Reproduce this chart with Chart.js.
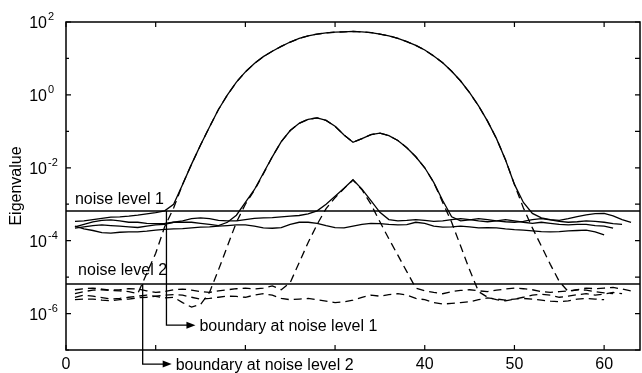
<!DOCTYPE html>
<html lang="en">
<head>
<meta charset="UTF-8">
<title>Eigenvalues at two noise levels</title>
<script src="https://cdn.jsdelivr.net/npm/chart.js"></script>
<style>
  body { margin: 0; background: #fff; }
  #wrap { width: 642px; height: 373px; position: relative; }
</style>
</head>
<body>
<div id="wrap"><canvas id="eigChart"></canvas></div>
<script>
// every curve starts at index 1 and runs as far as its array goes
const xStart = 1;

// solid curves: eigenvalues at noise level 1
const eig1Noise1 = [
  3.4e-4, 3.5e-4, 3.8e-4, 4.1e-4, 4.4e-4, 4.5e-4, 4.7e-4, 5.0e-4, 5.4e-4, 5.9e-4,
  6.6e-4, 1.0e-3, 3.5e-3, 1.26e-2, 4.2e-2, 0.132, 0.398, 1.0, 2.24, 4.27,
  7.24, 11.2, 15.8, 21.4, 28.2, 35.5, 41.7, 46.8, 50.1, 52.5,
  53.7, 55.0, 53.7, 51.3, 46.8, 41.7, 35.5, 28.8, 22.9, 17.0,
  11.7, 7.59, 4.47, 2.40, 1.15, 0.501, 0.191, 0.0631, 0.0166, 3.5e-3,
  1.12e-3, 5.6e-4, 4.2e-4, 3.8e-4, 3.6e-4, 4.0e-4, 4.6e-4, 5.1e-4, 5.5e-4, 5.6e-4,
  4.8e-4, 3.8e-4, 3.2e-4
];
const eig2Noise1 = [
  2.4e-4, 2.8e-4, 3.3e-4, 3.6e-4, 3.7e-4, 3.5e-4, 3.2e-4, 3.2e-4, 3.0e-4, 2.95e-4,
  3.0e-4, 3.2e-4, 3.2e-4, 3.2e-4, 3.0e-4, 2.8e-4, 2.6e-4, 3.2e-4, 5.0e-4, 1.12e-3,
  2.5e-3, 7.1e-3, 2.0e-2, 5.2e-2, 0.105, 0.166, 0.214, 0.234, 0.200, 0.138,
  0.0794, 0.0501, 0.0631, 0.0813, 0.0891, 0.0759, 0.0562, 0.0355, 0.020, 0.010,
  3.98e-3, 1.26e-3, 4.5e-4, 3.5e-4, 3.7e-4, 4.0e-4, 3.8e-4, 3.5e-4, 3.3e-4, 3.2e-4,
  3.4e-4, 3.8e-4, 4.0e-4, 3.7e-4, 3.4e-4, 3.2e-4, 3.3e-4, 3.5e-4, 3.4e-4, 3.2e-4,
  2.95e-4, 2.8e-4
];
const eig3Noise1 = [
  2.2e-4, 2.4e-4, 2.6e-4, 2.7e-4, 2.6e-4, 2.5e-4, 2.4e-4, 2.3e-4, 2.5e-4, 2.7e-4,
  2.8e-4, 3.2e-4, 3.5e-4, 4.0e-4, 4.2e-4, 4.0e-4, 3.6e-4, 3.5e-4, 3.5e-4, 3.8e-4,
  4.1e-4, 4.2e-4, 4.3e-4, 4.5e-4, 4.7e-4, 4.9e-4, 5.4e-4, 6.6e-4, 1.0e-3, 1.66e-3,
  2.75e-3, 4.7e-3, 2.6e-3, 1.26e-3, 6.0e-4, 3.8e-4, 3.5e-4, 3.6e-4, 3.8e-4, 3.6e-4,
  3.4e-4, 3.5e-4, 3.8e-4, 4.0e-4, 3.8e-4, 3.5e-4, 3.3e-4, 3.5e-4, 3.8e-4, 3.5e-4,
  3.2e-4, 3.0e-4, 3.2e-4, 3.0e-4, 2.8e-4, 2.7e-4, 2.8e-4, 2.8e-4, 2.6e-4, 2.5e-4,
  2.2e-4
];
const eig4Noise1 = [
  2.5e-4, 2.1e-4, 1.9e-4, 1.66e-4, 1.62e-4, 1.7e-4, 1.74e-4, 1.74e-4, 1.82e-4, 1.95e-4,
  2.04e-4, 2.1e-4, 2.14e-4, 2.24e-4, 2.34e-4, 2.4e-4, 2.5e-4, 2.6e-4, 2.7e-4, 2.7e-4,
  2.5e-4, 2.24e-4, 2.19e-4, 2.29e-4, 2.8e-4, 3.2e-4, 3.2e-4, 3.0e-4, 2.6e-4, 2.29e-4,
  2.24e-4, 2.5e-4, 2.8e-4, 3.0e-4, 2.95e-4, 2.8e-4, 2.7e-4, 2.75e-4, 3.2e-4, 3.0e-4,
  2.5e-4, 2.34e-4, 2.4e-4, 2.5e-4, 2.4e-4, 2.24e-4, 2.29e-4, 2.24e-4, 2.1e-4, 2.0e-4,
  1.95e-4, 1.86e-4, 1.78e-4, 1.74e-4, 1.78e-4, 1.86e-4, 1.9e-4, 1.95e-4, 1.74e-4, 1.45e-4
];

// dashed curves: eigenvalues at noise level 2
const eig1Noise2 = [
  3.5e-6, 4.0e-6, 4.4e-6, 4.5e-6, 4.3e-6, 4.2e-6, 4.0e-6, 3.5e-6, 1.26e-5, 4.5e-5,
  2.4e-4, 7.9e-4, 3.5e-3, 1.26e-2, 4.2e-2, 0.132, 0.398, 1.0, 2.24, 4.27,
  7.24, 11.2, 15.8, 21.4, 28.2, 35.5, 41.7, 46.8, 50.1, 52.5,
  53.7, 55.0, 53.7, 51.3, 46.8, 41.7, 35.5, 28.8, 22.9, 17.0,
  11.7, 7.59, 4.47, 2.40, 1.15, 0.501, 0.191, 0.0631, 0.0166, 3.5e-3,
  7.9e-4, 2.24e-4, 7.1e-5, 2.24e-5, 7.6e-6, 4.0e-6, 4.5e-6, 5.0e-6, 4.8e-6, 5.0e-6,
  5.2e-6, 4.7e-6, 4.2e-6
];
const eig2Noise2 = [
  2.8e-6, 3.2e-6, 3.0e-6, 2.75e-6, 2.5e-6, 2.6e-6, 2.8e-6, 3.0e-6, 3.2e-6, 2.95e-6,
  2.7e-6, 2.8e-6, 2.0e-6, 1.5e-6, 1.78e-6, 3.8e-6, 1.58e-5, 7.1e-5, 3.2e-4, 1.0e-3,
  2.4e-3, 6.8e-3, 2.0e-2, 5.2e-2, 0.105, 0.166, 0.214, 0.234, 0.200, 0.138,
  0.0794, 0.0501, 0.0631, 0.0813, 0.0891, 0.0759, 0.0562, 0.0355, 0.020, 0.010,
  3.98e-3, 1.12e-3, 3.2e-4, 7.1e-5, 1.58e-5, 4.0e-6, 2.8e-6, 2.4e-6, 2.24e-6, 2.5e-6,
  2.8e-6, 3.2e-6, 3.4e-6, 3.2e-6, 2.8e-6, 3.0e-6, 3.3e-6, 3.5e-6, 3.2e-6, 3.4e-6,
  3.8e-6, 3.5e-6
];
const eig3Noise2 = [
  4.5e-6, 4.8e-6, 5.0e-6, 4.7e-6, 4.4e-6, 4.5e-6, 4.8e-6, 4.7e-6, 4.2e-6, 3.8e-6,
  4.0e-6, 4.5e-6, 4.7e-6, 4.4e-6, 4.0e-6, 3.8e-6, 4.2e-6, 4.5e-6, 4.8e-6, 5.0e-6,
  4.7e-6, 5.0e-6, 5.75e-6, 4.5e-6, 7.1e-6, 2.5e-5, 8.9e-5, 2.8e-4, 7.6e-4, 1.51e-3,
  2.7e-3, 4.6e-3, 2.5e-3, 1.0e-3, 3.3e-4, 1.12e-4, 4.0e-5, 1.41e-5, 5.0e-6, 4.2e-6,
  3.8e-6, 3.5e-6, 4.0e-6, 4.3e-6, 4.5e-6, 4.2e-6, 4.0e-6, 4.4e-6, 4.7e-6, 5.0e-6,
  4.8e-6, 4.5e-6, 4.0e-6, 3.8e-6, 4.0e-6, 4.2e-6, 4.5e-6, 4.4e-6, 4.0e-6, 3.7e-6,
  3.5e-6
];
const eig4Noise2 = [
  2.4e-6, 2.5e-6, 2.5e-6, 2.34e-6, 2.24e-6, 2.4e-6, 2.5e-6, 2.7e-6, 2.8e-6, 3.0e-6,
  3.2e-6, 3.3e-6, 3.2e-6, 2.8e-6, 2.5e-6, 2.6e-6, 2.8e-6, 3.0e-6, 2.95e-6, 2.8e-6,
  3.2e-6, 3.5e-6, 3.2e-6, 2.6e-6, 2.4e-6, 2.5e-6, 2.6e-6, 2.4e-6, 2.19e-6, 2.0e-6,
  2.1e-6, 2.34e-6, 2.8e-6, 3.2e-6, 3.0e-6, 3.3e-6, 3.5e-6, 3.2e-6, 2.6e-6, 2.4e-6,
  2.0e-6, 1.82e-6, 1.9e-6, 2.0e-6, 2.1e-6, 2.4e-6, 2.7e-6, 2.5e-6, 2.34e-6, 2.5e-6,
  2.6e-6, 2.5e-6, 2.34e-6, 2.19e-6, 2.1e-6, 2.24e-6, 2.5e-6, 2.6e-6, 2.5e-6, 2.4e-6
];

// horizontal noise levels and the annotations
const noiseLevels = [6.5e-4, 6.5e-6];
const noiseLabels = ['noise level 1', 'noise level 2'];
const noiseLabelX = [1.0, 1.35];
const noiseLabelY = [1.0e-3, 1.15e-5];
const boundaryX = [11.2, 8.55];
const boundaryArrowY = [4.8e-7, 4.1e-8];
const boundaryLabels = ['boundary at noise level 1', 'boundary at noise level 2'];

// axes
const xMin = 0, xMax = 64, xStep = 10;
const yDecades = [-7, -6, -5, -4, -3, -2, -1, 0, 1, 2];
const yLabelExps = [2, 0, -2, -4, -6];

const FONT = "'Liberation Sans', Arial, Helvetica, sans-serif";

function toPoints(arr) {
  return arr.map((v, i) => ({ x: xStart + i, y: v }));
}

function curve(arr, dashed) {
  return {
    data: toPoints(arr),
    borderColor: '#000',
    borderWidth: 1.3,
    borderDash: dashed ? [8, 5] : [],
    pointRadius: 0,
    tension: 0,
    fill: false
  };
}

function levelLine(v) {
  return {
    data: [{ x: xMin, y: v }, { x: xMax, y: v }],
    borderColor: '#000',
    borderWidth: 1.4,
    pointRadius: 0,
    fill: false
  };
}

// frame, inward ticks, 10^n labels and the text notes
const frameAndNotes = {
  id: 'frameAndNotes',
  afterDraw(chart) {
    const { ctx, chartArea: a, scales: { x, y } } = chart;
    ctx.save();
    ctx.strokeStyle = '#000';
    ctx.fillStyle = '#000';

    ctx.lineWidth = 1.5;
    ctx.strokeRect(a.left, a.top, a.right - a.left, a.bottom - a.top);

    ctx.lineWidth = 1.2;
    ctx.beginPath();
    x.ticks.forEach(t => {
      const px = x.getPixelForValue(t.value);
      ctx.moveTo(px, a.bottom); ctx.lineTo(px, a.bottom - 5);
      ctx.moveTo(px, a.top); ctx.lineTo(px, a.top + 5);
    });
    y.ticks.forEach(t => {
      const py = y.getPixelForValue(t.value);
      const exp = Math.round(Math.log10(t.value));
      const len = exp % 2 === 0 ? 5 : 3;
      ctx.moveTo(a.left, py); ctx.lineTo(a.left + len, py);
      ctx.moveTo(a.right, py); ctx.lineTo(a.right - 5, py);
    });
    ctx.stroke();

    // y tick labels with raised exponent
    yLabelExps.forEach(e => {
      const py = y.getPixelForValue(Number('1e' + e));
      ctx.font = '16px ' + FONT;
      ctx.textAlign = 'right';
      ctx.textBaseline = 'middle';
      ctx.fillText('10', a.left - 19, py + 2);
      ctx.font = '11px ' + FONT;
      ctx.textAlign = 'left';
      ctx.fillText(String(e), a.left - 18, py - 5);
    });

    // noise level captions
    ctx.font = '16px ' + FONT;
    ctx.textAlign = 'left';
    ctx.textBaseline = 'alphabetic';
    noiseLabels.forEach((txt, i) => {
      ctx.fillText(txt, x.getPixelForValue(noiseLabelX[i]), y.getPixelForValue(noiseLabelY[i]));
    });

    // boundary arrows
    boundaryX.forEach((bx, i) => {
      const px = x.getPixelForValue(bx);
      const top = y.getPixelForValue(noiseLevels[i]);
      const py = y.getPixelForValue(boundaryArrowY[i]);
      const tip = px + 29;
      ctx.font = '16px ' + FONT;
      const tw = ctx.measureText(boundaryLabels[i]).width;
      if (py > a.bottom) {
        ctx.fillStyle = '#fff';
        ctx.fillRect(px - 3, a.bottom + 4, tip + 6 + tw - px, chart.height - a.bottom - 4);
        ctx.fillStyle = '#000';
      }
      ctx.lineWidth = 1.3;
      ctx.beginPath();
      ctx.moveTo(px, top);
      ctx.lineTo(px, py);
      ctx.lineTo(tip - 6, py);
      ctx.stroke();
      ctx.beginPath();
      ctx.moveTo(tip, py);
      ctx.lineTo(tip - 9, py - 3.5);
      ctx.lineTo(tip - 9, py + 3.5);
      ctx.closePath();
      ctx.fill();
      ctx.textAlign = 'left';
      ctx.textBaseline = 'middle';
      ctx.fillText(boundaryLabels[i], tip + 4, py + 1);
    });

    ctx.restore();
  }
};

new Chart(document.getElementById('eigChart'), {
  type: 'line',
  data: {
    datasets: [
      curve(eig1Noise1, false), curve(eig2Noise1, false),
      curve(eig3Noise1, false), curve(eig4Noise1, false),
      curve(eig1Noise2, true), curve(eig2Noise2, true),
      curve(eig3Noise2, true), curve(eig4Noise2, true),
      levelLine(noiseLevels[0]), levelLine(noiseLevels[1])
    ]
  },
  options: {
    responsive: true,
    maintainAspectRatio: false,
    animation: false,
    layout: { padding: { top: 22, right: 2, left: 0, bottom: 0 } },
    plugins: { legend: { display: false }, tooltip: { enabled: false } },
    scales: {
      x: {
        type: 'linear',
        min: xMin,
        max: xMax,
        grid: { display: false, drawTicks: false },
        border: { display: false },
        ticks: {
          stepSize: xStep,
          includeBounds: false,
          color: '#000',
          padding: 5,
          maxRotation: 0,
          font: { family: FONT, size: 16 }
        },
        afterFit(scale) { scale.height = 23; }
      },
      y: {
        type: 'logarithmic',
        min: 1e-7,
        max: 1e2,
        grid: { display: false, drawTicks: false },
        border: { display: false },
        ticks: { display: false },
        afterBuildTicks(scale) {
          scale.ticks = yDecades.map(e => ({ value: Number('1e' + e) }));
        },
        title: {
          display: true,
          text: 'Eigenvalue',
          color: '#000',
          padding: { top: 7, bottom: 0 },
          font: { family: FONT, size: 16 }
        },
        afterFit(scale) { scale.width = 66; }
      }
    }
  },
  plugins: [frameAndNotes]
});
</script>
</body>
</html>
